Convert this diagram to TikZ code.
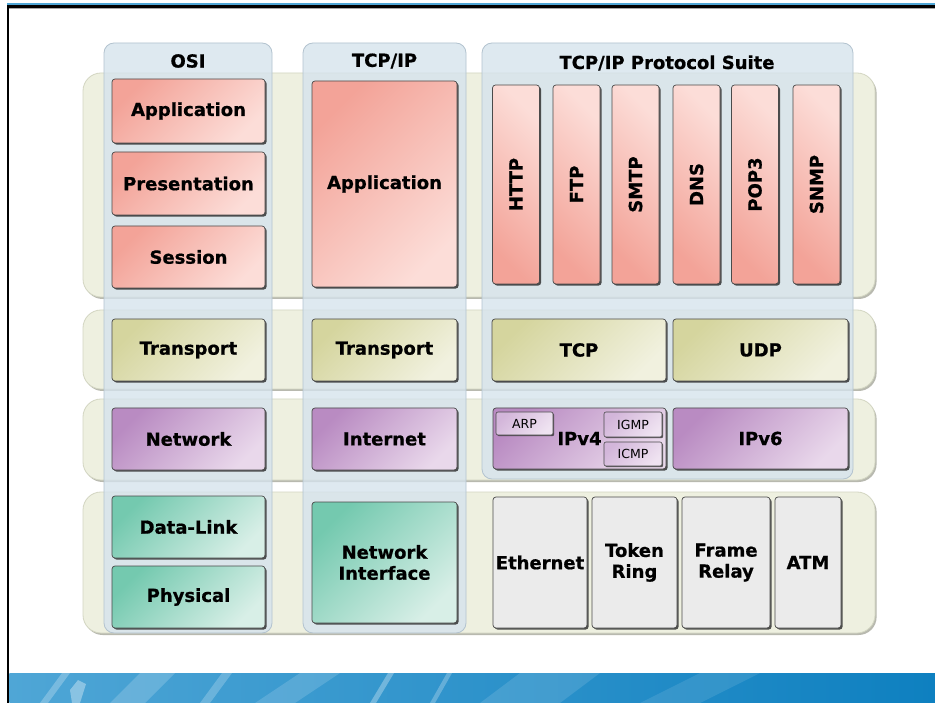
\documentclass[tikz,border=0pt]{standalone}
\usepackage{fontspec}
\setmainfont{DejaVu Sans}[BoldFeatures={FakeBold=0.7}]
\usetikzlibrary{shadows}

\definecolor{bandfill}{HTML}{EEF0E0}
\definecolor{bandline}{HTML}{D3D6C2}
\definecolor{bandshadow}{HTML}{B8B9AF}
\definecolor{panelfill}{HTML}{D5E3ED}
\definecolor{panelline}{HTML}{B3C3CF}
\definecolor{boxline}{HTML}{4A4A4A}
\definecolor{appdark}{HTML}{F3A398}
\definecolor{applight}{HTML}{FCDDD8}
\definecolor{trdark}{HTML}{D5D59E}
\definecolor{trlight}{HTML}{F1F1DF}
\definecolor{netdark}{HTML}{B98BC2}
\definecolor{netlight}{HTML}{E9D8EB}
\definecolor{subdark}{HTML}{D3B6DA}
\definecolor{sublight}{HTML}{EFE3F1}
\definecolor{lnkdark}{HTML}{74C9AF}
\definecolor{lnklight}{HTML}{D8EFE7}
\definecolor{phyfill}{HTML}{EBEBEB}
\definecolor{barblue}{HTML}{0E80C0}
\definecolor{barlight}{HTML}{4FA6D6}

\newcommand\labelfont{\bfseries\fontsize{18}{21}\selectfont}
\newcommand\smallfont{\fontsize{12.5}{14}\selectfont}

\tikzset{
  band/.style={fill=bandfill, draw=bandline, line width=0.8pt, rounded corners=18pt,
    drop shadow={shadow xshift=1.6pt, shadow yshift=-2pt, fill=bandshadow, opacity=1}},
  panel/.style={fill=panelfill, fill opacity=0.78, draw=panelline, line width=0.8pt,
    rounded corners=10pt},
  head/.style={font=\labelfont, text=black, inner sep=0pt},
  layer/.style={draw=boxline, line width=0.7pt, rounded corners=3pt, font=\labelfont,
    text=black, align=center, inner sep=0pt,
    drop shadow={shadow xshift=1.6pt, shadow yshift=-1.6pt, fill=black!80, opacity=0.85}},
  appbox/.style={layer, top color=appdark, bottom color=applight, shading angle=45},
  protobox/.style={layer, top color=appdark, bottom color=applight, shading angle=135},
  trbox/.style={layer, top color=trdark, bottom color=trlight, shading angle=45},
  netbox/.style={layer, top color=netdark, bottom color=netlight, shading angle=45},
  lnkbox/.style={layer, top color=lnkdark, bottom color=lnklight, shading angle=45},
  phybox/.style={layer, fill=phyfill},
  subbox/.style={draw=boxline, line width=0.6pt, rounded corners=2pt, font=\smallfont,
    text=black, inner sep=0pt, top color=subdark, bottom color=sublight, shading angle=45,
    drop shadow={shadow xshift=1.2pt, shadow yshift=-1.2pt, fill=black!80, opacity=0.8}},
}

\begin{document}
\begin{tikzpicture}[x=1pt, y=-1pt]
\useasboundingbox (0,0) rectangle (935,703);
\fill[white] (0,0) rectangle (935,703);

% slide frame
\fill[barlight] (7,3.5) rectangle (935,5.2);
\fill[black] (7,5.2) rectangle (935,8);
\fill[black!35] (9.3,8) rectangle (935,9.2);
\fill[black] (7,5.2) rectangle (9.3,703);

% slide footer bar
\shade[left color=barlight, right color=barblue] (9.3,673) rectangle (935,703);
\begin{scope}[white]
  \fill[opacity=0.25] (40,703) -- (62,673) -- (70,673) -- (48,703) -- cycle;
  \fill[opacity=0.35] (70,690) -- (78,680) -- (86,684) -- (80,703) -- (72,703) -- cycle;
  \fill[opacity=0.18] (110,703) -- (140,673) -- (175,673) -- (145,703) -- cycle;
  \fill[opacity=0.22] (200,703) -- (222,673) -- (232,673) -- (210,703) -- cycle;
  \fill[opacity=0.15] (255,703) -- (300,673) -- (340,673) -- (295,703) -- cycle;
  \fill[opacity=0.30] (370,703) -- (388,673) -- (394,673) -- (376,703) -- cycle;
  \fill[opacity=0.25] (430,703) -- (447,673) -- (452,673) -- (435,703) -- cycle;
  \fill[opacity=0.12] (480,703) -- (520,673) -- (600,673) -- (560,703) -- cycle;
  \fill[opacity=0.10] (640,703) -- (700,673) -- (760,673) -- (700,703) -- cycle;
\end{scope}

% layer bands
\path[band] (83,73) rectangle (875,297);
\path[band] (83,310) rectangle (875,389);
\path[band] (83,399) rectangle (875,480);
\path[band] (83,492) rectangle (875,633);

% model columns
\path[panel] (104,43) rectangle (272,633);
\path[panel] (303,43) rectangle (466,633);
\path[panel] (482,43) rectangle (853,479);

\node[head] (osihead) at (188,61) {OSI};
\node[head] (tcphead) at (384.5,61) {TCP/IP};
\node[head] (suitehead) at (667,63) {TCP/IP Protocol Suite};

% OSI layers
\node[appbox, minimum width=153pt, minimum height=64pt] (osiapp) at (188.5,111) {Application};
\node[appbox, minimum width=153pt, minimum height=63pt] (osipres) at (188.5,183.5) {Presentation};
\node[appbox, minimum width=153pt, minimum height=62pt] (osisess) at (188.5,257) {Session};
\node[trbox, minimum width=153pt, minimum height=62pt] (ositrans) at (188.5,350) {Transport};
\node[netbox, minimum width=153pt, minimum height=62pt] (osinet) at (188.5,439) {Network};
\node[lnkbox, minimum width=153pt, minimum height=62pt] (osidl) at (188.5,527) {Data-Link};
\node[lnkbox, minimum width=153pt, minimum height=62pt] (osiphy) at (188.5,597) {Physical};

% TCP/IP layers
\node[appbox, minimum width=145pt, minimum height=206pt] (tcpapp) at (384.5,184) {Application};
\node[trbox, minimum width=145pt, minimum height=62pt] (tcptrans) at (384.5,350) {Transport};
\node[netbox, minimum width=145pt, minimum height=62pt] (tcpinet) at (384.5,439) {Internet};
\node[lnkbox, minimum width=145pt, minimum height=121pt] (tcpnif) at (384.5,562.5) {Network\\Interface};

% application protocols
\node[protobox, minimum width=47pt, minimum height=199pt] (http) at (516,184.5) {};
\node[rotate=90, font=\labelfont] (httpt) at (http.center) {HTTP};
\node[protobox, minimum width=47pt, minimum height=199pt] (ftp) at (576.5,184.5) {};
\node[rotate=90, font=\labelfont] (ftpt) at (ftp.center) {FTP};
\node[protobox, minimum width=47pt, minimum height=199pt] (smtp) at (635.5,184.5) {};
\node[rotate=90, font=\labelfont] (smtpt) at (smtp.center) {SMTP};
\node[protobox, minimum width=47pt, minimum height=199pt] (dns) at (696.5,184.5) {};
\node[rotate=90, font=\labelfont] (dnst) at (dns.center) {DNS};
\node[protobox, minimum width=47pt, minimum height=199pt] (pop) at (755,184.5) {};
\node[rotate=90, font=\labelfont] (popt) at (pop.center) {POP3};
\node[protobox, minimum width=47pt, minimum height=199pt] (snmp) at (816.5,184.5) {};
\node[rotate=90, font=\labelfont] (snmpt) at (snmp.center) {SNMP};

% transport protocols
\node[trbox, minimum width=174pt, minimum height=62pt] (tcp) at (579,350) {TCP};
\node[trbox, minimum width=175pt, minimum height=62pt] (udp) at (760.5,350) {UDP};

% internet protocols
\node[netbox, minimum width=173pt, minimum height=61pt] (ipv4) at (579.5,438.5) {IPv4};
\node[netbox, minimum width=175pt, minimum height=61pt] (ipv6) at (760.5,438.5) {IPv6};
\node[subbox, minimum width=57pt, minimum height=23pt] (arp) at (524.5,423.5) {ARP};
\node[subbox, minimum width=58pt, minimum height=25pt] (igmp) at (633,424.5) {IGMP};
\node[subbox, minimum width=58pt, minimum height=24pt] (icmp) at (633,454) {ICMP};

% network access technologies
\node[phybox, minimum width=94pt, minimum height=131pt] (eth) at (540,562.5) {Ethernet};
\node[phybox, minimum width=85pt, minimum height=131pt] (token) at (634.5,562.5) {Token\\Ring};
\node[phybox, minimum width=88pt, minimum height=131pt] (frame) at (726,562.5) {Frame\\Relay};
\node[phybox, minimum width=66pt, minimum height=131pt] (atm) at (808,562.5) {ATM};
\end{tikzpicture}
\end{document}
